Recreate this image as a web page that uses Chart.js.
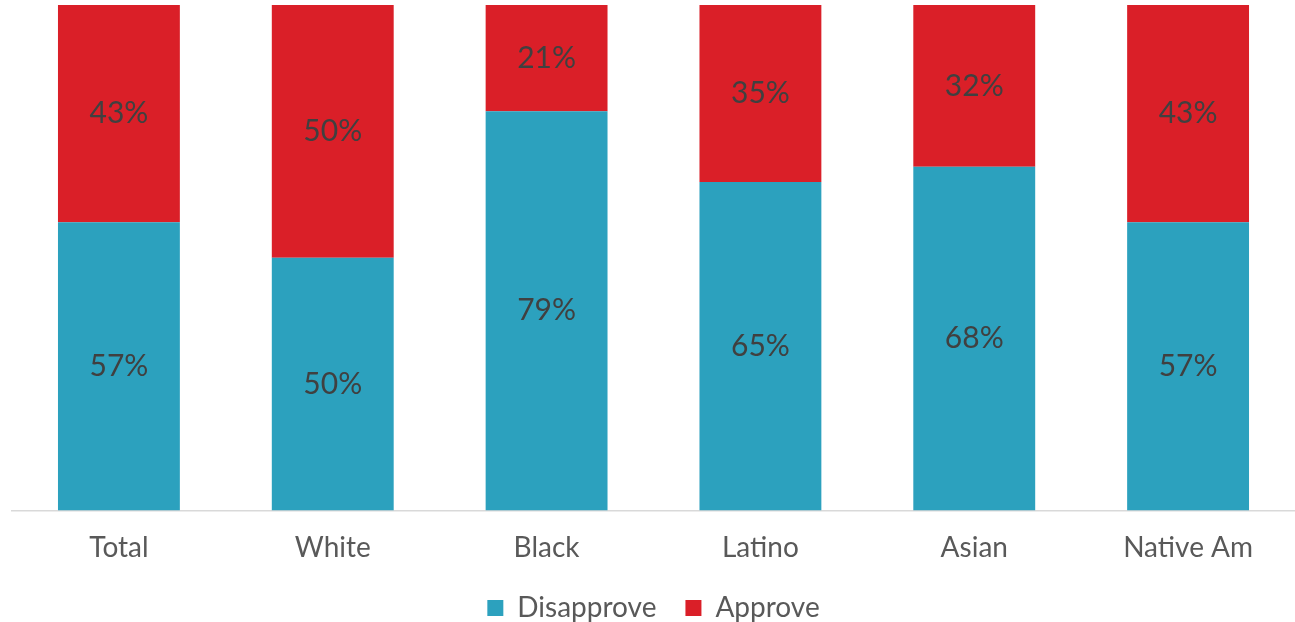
<!DOCTYPE html>
<html>
<head>
<meta charset="utf-8">
<script src="https://cdn.jsdelivr.net/npm/chart.js@4/dist/chart.umd.min.js"></script>
<style>
  html, body { margin: 0; padding: 0; background: #fff; }
  #wrap { width: 1295px; height: 622px; }
</style>
</head>
<body>
<div id="wrap"><canvas id="approvalChart" width="1295" height="622"></canvas></div>
<script>
// categories and values
const groups = ["Total", "White", "Black", "Latino", "Asian", "Native Am"];
const disapprove = [57, 50, 79, 65, 68, 57];
const approve = [43, 50, 21, 35, 32, 43];

const blue = "#2CA1BE";
const red = "#DA1F28";
const fontName = "Lato, 'Open Sans', sans-serif";

// writes the % value in the middle of every bar segment
const segmentLabels = {
  id: "segmentLabels",
  afterDatasetsDraw(chart) {
    const ctx = chart.ctx;
    ctx.save();
    ctx.font = "30px " + fontName;
    ctx.fillStyle = "#404040";
    ctx.textAlign = "center";
    ctx.textBaseline = "middle";
    chart.data.datasets.forEach((ds, i) => {
      chart.getDatasetMeta(i).data.forEach((bar, j) => {
        const mid = (bar.y + bar.base) / 2;
        ctx.fillText(ds.data[j] + "%", bar.x, mid);
      });
    });
    ctx.restore();
  }
};

new Chart(document.getElementById("approvalChart"), {
  type: "bar",
  data: {
    labels: groups,
    datasets: [
      { label: "Disapprove", data: disapprove, backgroundColor: blue },
      { label: "Approve", data: approve, backgroundColor: red }
    ]
  },
  options: {
    responsive: false,
    animation: false,
    layout: { padding: { left: 12, right: 0, top: 5, bottom: -10 } },
    datasets: { bar: { barPercentage: 0.57, categoryPercentage: 1 } },
    scales: {
      x: {
        stacked: true,
        grid: { display: false },
        border: { color: "#d9d9d9", width: 1.5 },
        ticks: { color: "#595959", font: { family: fontName, size: 28 }, padding: 13 },
        afterFit(scale) { scale.height -= 13; }   // trim the empty strip under the labels
      },
      y: { stacked: true, min: 0, max: 100, display: false }
    },
    plugins: {
      legend: {
        position: "bottom",
        labels: {
          color: "#595959",
          font: { family: fontName, size: 28 },
          boxWidth: 16,
          boxHeight: 16,
          padding: 29
        }
      },
      tooltip: { enabled: false }
    }
  },
  plugins: [segmentLabels]
});
</script>
</body>
</html>
